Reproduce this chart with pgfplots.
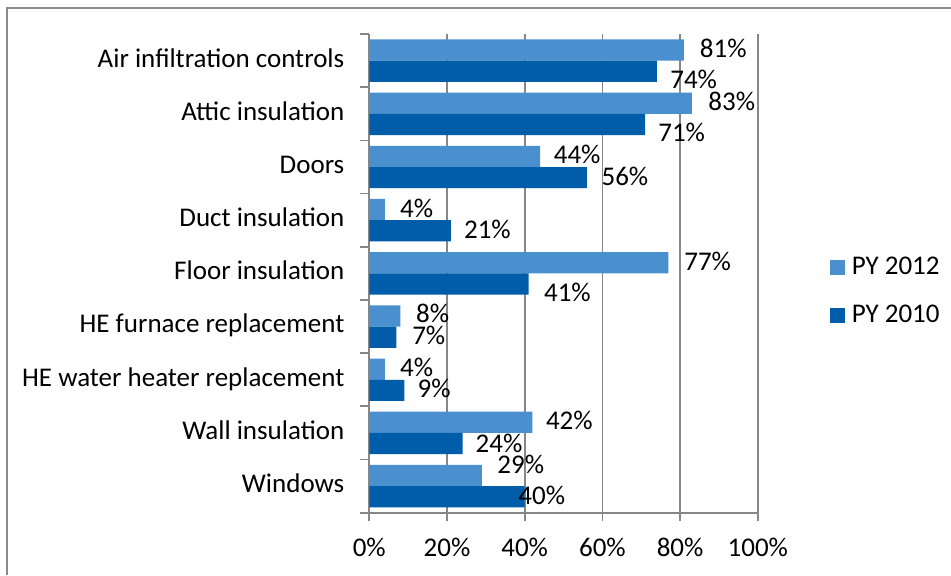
\documentclass[border=0pt]{standalone}
\usepackage{fontspec}
\setmainfont{Carlito}
\usepackage{pgfplots}
\pgfplotsset{compat=1.18}
\definecolor{py12}{HTML}{4A8FCE}
\definecolor{py10}{HTML}{005DA9}
\definecolor{axgray}{HTML}{878787}
\definecolor{framegray}{HTML}{8A8A8A}

\begin{document}
\begin{tikzpicture}[font=\fontsize{13.5}{16.2}\selectfont,
  lbl/.style={anchor=center, inner sep=0pt, text height=0.64em, text depth=0pt}]
\useasboundingbox (0,0) rectangle (475.5pt,-287.5pt);
\draw[framegray, line width=1pt] (3.5pt,-287.5pt) -- (3.5pt,-4pt) -- (475.5pt,-4pt);
\begin{axis}[
  at={(184.65pt,-256.35pt)}, anchor=south west,
  scale only axis, width=194.25pt, height=239.35pt,
  xbar, bar width=10.6pt,
  xmin=0, xmax=100, ymin=-0.5, ymax=8.5,
  axis x line*=bottom, axis y line*=left,
  axis line style={axgray, line width=0.9pt, -},
  xtick={0,20,...,100},
  xticklabels={0\%,20\%,40\%,60\%,80\%,100\%},
  ytick={0,...,8},
  yticklabels={Windows,Wall insulation,HE water heater replacement,HE furnace replacement,Floor insulation,Duct insulation,Doors,Attic insulation,Air infiltration controls},
  minor ytick={-0.5,0.5,...,8.5},
  tick align=outside,
  major tick length=4pt, minor tick length=4.5pt,
  tick style={axgray, line width=0.9pt},
  major y tick style={draw=none},
  xmajorgrids, grid style={axgray, line width=0.9pt},
  yticklabel style={anchor=east, inner sep=0pt, text height=0.64em, text depth=0pt, xshift=-8.3pt},
  xticklabel style={anchor=north, inner sep=0pt, text height=0.64em, text depth=0pt, yshift=-11.15pt},
  legend style={at={(1.1858,0.4623)}, anchor=west, draw=none, fill=none,
    inner sep=0pt, row sep=14pt, column sep=3.2pt, legend cell align=left,
    nodes={inner sep=0pt}},
  legend image code/.code={\fill[#1] (0pt,-3.75pt) rectangle (7.5pt,3.75pt);},
]
\addplot[fill=py12, draw=none, bar shift=5.3pt] coordinates {(29,0) (42,1) (4,2) (8,3) (77,4) (4,5) (44,6) (83,7) (81,8)};
\addplot[fill=py10, draw=none, bar shift=-5.3pt] coordinates {(40,0) (24,1) (9,2) (7,3) (41,4) (21,5) (56,6) (71,7) (74,8)};
\legend{PY 2012, PY 2010}
\node[lbl] at (axis cs:91.1,8.175) {81\%};
\node[lbl] at (axis cs:83.5,7.588) {74\%};
\node[lbl] at (axis cs:93.3,7.188) {83\%};
\node[lbl] at (axis cs:80.4,6.591) {71\%};
\node[lbl] at (axis cs:53.5,6.184) {44\%};
\node[lbl] at (axis cs:65.8,5.774) {56\%};
\node[lbl] at (axis cs:12.2,5.168) {4\%};
\node[lbl] at (axis cs:30.4,4.783) {21\%};
\node[lbl] at (axis cs:87.1,4.179) {77\%};
\node[lbl] at (axis cs:51.0,3.593) {41\%};
\node[lbl] at (axis cs:16.3,3.194) {8\%};
\node[lbl] at (axis cs:15.3,2.784) {7\%};
\node[lbl] at (axis cs:12.2,2.183) {4\%};
\node[lbl] at (axis cs:16.7,1.782) {9\%};
\node[lbl] at (axis cs:51.5,1.190) {42\%};
\node[lbl] at (axis cs:33.4,0.758) {24\%};
\node[lbl] at (axis cs:39.0,0.350) {29\%};
\node[lbl] at (axis cs:44.4,-0.220) {40\%};
\end{axis}
\end{tikzpicture}
\end{document}
